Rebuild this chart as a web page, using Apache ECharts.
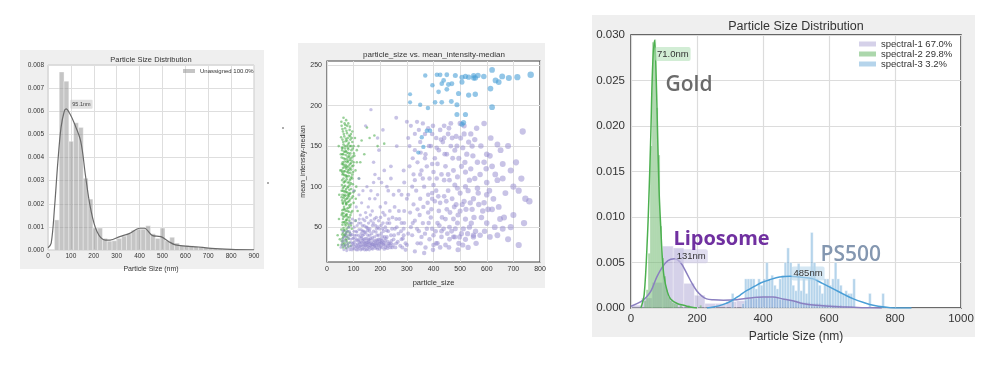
<!DOCTYPE html>
<html><head><meta charset="utf-8">
<script src="https://cdn.jsdelivr.net/npm/echarts@6/dist/echarts.min.js"></script>
<style>html,body{margin:0;padding:0;background:#fff}#c{width:998px;height:379px}</style>
</head><body><div id="c"></div><script>
// ---------- Panel 1 data ----------
const p1BinWidth = 21;
const p1BinStarts = [28,49,70,91,112,133,154,175,196,217,238,259,280,301,322,343,364,385,406,427,448,469,490,511,532,553,574,595,616,637,658,679,700,721,742,763,784,805,826,847,868];
const p1BinHeights = [0.0013,0.0077,0.0073,0.0047,0.0055,0.0053,0.0031,0.0022,0.00095,0.00095,0.0005,0.00038,0.0004,0.0005,0.0006,0.0007,0.00085,0.0009,0.0009,0.00105,0.0007,0.0005,0.00095,0.0004,0.00055,0.0003,0.0002,0.0002,0.00018,0.00015,0.00015,0.0001,0.00008,0.00006,0.00005,0.00004,0.00003,0.00003,0.00002,0.00002,0.00001];
const p1KdeX = [0,14,29,43,57,71,79,95,114,143,164,186,214,250,271,314,357,400,421,457,493,528,557,600,657,714,800,900];
const p1KdeY = [0.0001,0.0003,0.0019,0.0038,0.0053,0.006,0.0061,0.0059,0.0055,0.0047,0.0032,0.0018,0.0008,0.00043,0.00043,0.00058,0.00072,0.00094,0.00094,0.00062,0.00058,0.00036,0.00022,0.00017,0.00013,0.00007,0.00003,0.00001];
const p1Peak = [95.1, 0.0063];

// ---------- Panel 2 data ----------
const p2Green = [[62,185],[72,182],[80,178],[55,175],[68,172],[85,170],[60,168],[75,166],[90,165],[65,162],[78,160],[58,158],[88,158],[70,156],[82,154],[95,155],[62,152],[74,150],[86,150],[100,150],[56,148],[68,147],[80,146],[92,145],[64,143],[76,142],[88,141],[58,140],[70,139],[84,138],[96,137],[62,135],[74,134],[86,133],[66,131],[78,130],[90,129],[56,128],[70,127],[82,126],[94,125],[60,123],[72,122],[84,121],[64,119],[76,118],[88,117],[58,115],[70,114],[82,113],[92,112],[62,110],[74,109],[86,108],[66,106],[78,105],[90,104],[56,102],[68,101],[80,100],[60,98],[72,97],[84,96],[64,94],[76,93],[88,92],[58,90],[70,89],[82,88],[62,86],[74,85],[86,84],[66,82],[78,81],[60,79],[72,78],[84,77],[64,75],[76,73],[58,71],[70,70],[82,69],[62,67],[74,66],[66,63],[78,62],[60,60],[72,59],[84,58],[64,56],[76,55],[58,53],[70,52],[62,49],[74,48],[66,46],[78,45],[60,43],[72,42],[64,40],[76,38],[58,36],[70,35],[62,33],[74,32],[66,30],[56,28],[68,27],[80,26],[60,25],[150,173],[215,153],[178,163],[130,157],[112,145],[105,160],[100,130],[98,118],[104,95],[45,60],[50,120],[52,140],[48,35],[42,28],[95,70],[100,80],[90,52],[110,100],[115,70],[67,150],[79,148],[71,144],[83,136],[67,124],[79,120],[73,112],[63,105],[85,102],[69,95],[81,91],[65,88],[77,86],[71,80],[81,74],[67,72],[73,64],[69,57],[81,50],[67,41],[59,148],[91,150],[93,132],[57,118],[95,110],[55,95],[97,88],[57,83],[90,78],[55,65],[88,65],[54,47],[86,40],[61,128],[75,157],[87,162],[69,176],[77,137],[73,125],[65,114],[87,123],[61,140],
[54,180],[66,178],[76,175],[86,174],[58,171],[73,169],[95,168],[63,165],[83,163],[53,161],[71,159],[93,160],[61,155],[79,152],[97,147],[57,145],[69,143],[81,141],[101,141],[55,136],[67,134],[79,132],[91,135],[59,130],[73,131],[87,128],[99,126],[63,126],[77,124],[91,121],[55,120],[67,119],[81,117],[95,115],[61,116],[75,113],[89,110],[57,108],[69,107],[83,105],[97,103],[63,100],[77,99],[91,97],[59,95],[71,93],[85,91],[99,93],[65,90],[79,89],[93,86],[55,87],[69,84],[83,82],[59,80],[73,79],[87,75],[63,72],[77,70],[91,68],[57,67],[71,65],[85,62],[61,63],[75,59],[89,55],[59,56],[69,54],[81,53],[93,48],[63,46],[73,44],[85,43],[57,41],[69,39],[81,36],[61,38],[73,34],[85,31],[65,28],[77,29],[89,27],[55,33],[71,24],[59,30],[107,120],[103,138],[108,85],[120,110],[125,130],[118,150],[46,90],[44,150],[40,40],[108,58],[112,130],[160,160],[190,150],[140,140]];
const p2Purple = [[52,25],[58,32],[63,22],[68,28],[72,38],[76,24],[80,30],[84,45],[86,22],[90,35],[92,27],[95,41],[98,24],[100,31],[102,50],[105,26],[108,36],[110,22],[112,44],[115,29],[117,33],[119,55],[121,24],[124,38],[126,27],[128,47],[130,31],[132,23],[134,40],[136,28],[138,35],[140,52],[142,25],[144,30],[146,43],[148,22],[150,36],[152,28],[154,48],[156,33],[158,25],[160,40],[162,30],[165,58],[167,24],[170,37],[172,29],[175,45],[177,26],[180,33],[182,52],[185,28],[188,40],[190,23],[193,35],[196,48],[198,30],[201,26],[204,42],[207,33],[210,55],[213,28],[216,38],[220,25],[224,46],[228,32],[232,60],[236,28],[240,40],[245,25],[250,35],[255,48],[260,30],[268,42],[275,27],[285,36],[290,55],[96,30],[106,33],[114,25],[122,31],[131,36],[139,28],[147,33],[157,30],[166,27],[176,31],[186,34],[195,27],[205,30],[118,40],[128,42],[137,45],[160,45],[150,50],[135,60],[125,65],[145,68],[170,70],[185,62],[200,75],[210,68],[220,80],[160,85],[190,90],[230,95],[150,100],[175,105],[205,105],[240,110],[120,90],[110,75],[95,60],[85,55],[130,80],[215,120],[240,125],[175,130],[195,145],[260,185],[210,170],[165,195],[145,175],[190,160],[280,90],[300,85],[320,100],[270,70],
[55,28],[60,35],[65,26],[70,33],[74,21],[78,27],[82,36],[88,25],[91,31],[94,22],[97,36],[99,28],[103,23],[104,40],[107,29],[109,45],[111,26],[113,34],[116,22],[118,28],[120,47],[123,26],[125,33],[127,22],[129,38],[131,27],[133,45],[135,24],[137,32],[139,41],[141,22],[143,36],[145,27],[147,50],[149,31],[151,23],[153,40],[155,26],[157,35],[159,22],[161,48],[163,27],[164,36],[166,31],[168,42],[171,23],[173,34],[174,55],[176,28],[178,38],[181,24],[183,30],[184,44],[187,25],[189,33],[191,50],[192,28],[194,40],[197,23],[199,35],[202,31],[203,52],[206,25],[208,38],[211,29],[212,45],[215,23],[218,33],[219,50],[222,28],[225,38],[227,24],[230,45],[233,30],[235,55],[238,25],[242,33],[244,48],[248,28],[252,40],[257,25],[262,50],[266,32],[272,60],[278,45],[283,25],[288,40],[295,30],[82,50],[88,42],[93,55],[101,45],[106,58],[113,52],[121,60],[127,55],[133,52],[142,58],[149,62],[156,55],[163,65],[171,52],[178,60],[186,48],[194,58],[201,62],[209,48],[217,65],[226,55],[236,70],[246,62],[254,75],[142,44],[152,46],[119,35],[126,30],[134,34],[141,31],[148,28],[154,31],[161,34],[169,29],[179,27],[188,30],[196,32],[206,34],[214,31],[221,36],[229,27],[239,30],[100,37],[110,40],[90,40],[80,40],[75,45],[70,42],[65,38],[60,45],[165,95],[180,85],[155,75],[195,110],[225,100],[250,90],[180,115],[120,110],[135,95],[100,95],
[300,180],[315,175],[330,165],[345,170],[360,178],[380,172],[395,165],[410,160],[425,170],[440,175],[455,165],[470,160],[485,162],[500,178],[515,175],[540,165],[555,158],[590,178],[615,160],[640,152],[680,150],[735,168],[310,150],[330,145],[350,155],[370,140],[390,150],[405,135],[420,145],[435,155],[450,140],[465,150],[480,145],[495,135],[510,148],[525,140],[545,150],[565,130],[600,140],[620,125],[660,128],[310,125],[325,115],[340,130],[355,120],[375,125],[385,110],[400,118],[415,128],[430,115],[445,125],[460,108],[475,120],[490,112],[505,125],[520,118],[540,122],[555,110],[575,115],[600,105],[640,108],[670,92],[700,100],[730,110],[270,95],[290,105],[305,90],[335,95],[350,85],[365,100],[380,90],[395,85],[410,95],[425,80],[440,88],[455,95],[470,85],[485,78],[500,92],[515,82],[530,95],[550,85],[570,78],[590,80],[620,72],[650,60],[700,65],[760,82],[260,60],[280,55],[315,50],[330,58],[345,45],[360,55],[375,48],[390,62],[400,40],[415,55],[430,45],[445,60],[460,50],[475,38],[490,55],[505,42],[520,60],[535,50],[550,40],[560,30],[580,62],[600,55],[630,50],[660,48],[720,28],[280,35],[300,28],[320,40],[340,30],[355,38],[370,25],[385,35],[400,28],[415,30],[430,38],[445,28],[460,35],[480,38],[495,30],[510,28],[520,35],[550,38],[365,18],[410,30],[475,60],[420,70],[450,72],[380,68],[340,72],[500,70],[545,72],[600,90],[520,100],[480,102],[440,108],[400,102],[360,110],[330,108],
[262,150],[288,120],[305,160],[322,135],[338,180],[352,142],[368,165],[383,150],[398,175],[412,148],[428,158],[442,140],[458,172],[472,135],[488,150],[502,160],[518,130],[532,155],[548,138],[562,172],[578,150],[598,122],[612,138],[632,115],[652,145],[690,120],[720,95],[745,85],[290,70],[312,68],[325,78],[348,65],[362,75],[378,80],[392,72],[405,82],[418,88],[432,62],[448,82],[462,68],[478,75],[492,65],[508,78],[522,72],[538,80],[552,62],[568,92],[585,70],[605,72],[625,85],[645,75],[665,62],[690,50],[740,55],[288,48],[305,42],[322,55],[338,48],[352,30],[368,42],[382,55],[395,48],[408,45],[422,52],[438,48],[452,42],[468,45],[482,48],[498,38],[512,48],[528,42],[542,55],[558,45],[575,40],[592,45],[612,38],[640,40],[680,35],[295,22],[330,20],[398,22],[425,25],[458,25],[492,22],[530,25],[395,92],[412,110],[455,115],[490,98],[535,108],[565,98],[590,130],[610,95],[660,110],[710,130],[440,160],[465,178],[395,128],[368,135],[350,115],[515,165]];
const p2Blue = [[369,237],[413,238],[425,238],[450,238],[482,237],[507,235],[532,235],[551,237],[557,234],[589,236],[620,244],[633,231],[658,236],[683,234],[715,235],[765,238],[396,225],[431,227],[450,220],[494,215],[532,213],[557,214],[614,221],[645,229],[312,214],[312,204],[350,201],[379,197],[406,204],[431,204],[467,205],[488,201],[620,198],[488,189],[520,189],[507,177],[513,179],[375,169],[387,169],[356,161],[362,149],[343,142],[438,231],[469,227],[507,229],[419,217],[456,226],[520,236],[551,234],[567,237]];
const p2YTicks = [50,100,150,200,250];

// ---------- Panel 3 data ----------
const p3Names = ['spectral-1 67.0%','spectral-2 29.8%','spectral-3 3.2%'];
const p3PurpleWidth = 32;
const p3PurpleStarts = [0,32,64,96,128,160,192,224,256,288,320,352,384,416,448,480,512,544,576,608,640,672];
const p3PurpleHeights = [0.0003,0.0011,0.0028,0.0068,0.0066,0.0027,0.0014,0.0005,0.0005,0.0007,0.0008,0.001,0.0012,0.0011,0.0009,0.0008,0.0006,0.0005,0.0004,0.0003,0.0002,0.0001];
const p3GreenWidth = 6;
const p3GreenStarts = [40,46,52,58,64,70,76,82,88,94,100,106,112,118,124,130,136,148,172,208];
const p3GreenHeights = [0.0008,0.002,0.006,0.0178,0.0292,0.0295,0.022,0.0168,0.009,0.0055,0.0035,0.002,0.0012,0.0008,0.0006,0.0005,0.0004,0.0003,0.0003,0.0003];
const p3BlueWidth = 8;
const p3BlueStarts = [304,336,344,352,360,368,376,384,392,400,408,416,424,432,440,448,456,464,472,480,488,496,504,512,520,528,536,544,552,560,568,576,584,592,600,608,616,624,632,640,648,656,664,672,720,760];
const p3BlueHeights = [0.0016,0.0005,0.0032,0.0032,0.0032,0.0032,0.0021,0.0032,0.0025,0.0032,0.005,0.0032,0.0036,0.0025,0.0021,0.0032,0.0036,0.005,0.0066,0.005,0.0025,0.0019,0.0049,0.0019,0.0032,0.0016,0.0032,0.0083,0.005,0.0032,0.0025,0.0016,0.0032,0.0032,0.0025,0.0032,0.005,0.0032,0.0025,0.0016,0.0019,0.0016,0.0016,0.0032,0.0016,0.0016];
const p3GreenKdeX = [30,40,50,55,60,65,71,75,80,85,90,95,100,110,120,140,160,180,200];
const p3GreenKdeY = [0,0.0015,0.008,0.013,0.019,0.026,0.0294,0.027,0.02,0.013,0.009,0.0055,0.0035,0.0018,0.001,0.0005,0.0003,0.0001,0];
const p3PurpleKdeX = [0,30,47,61,78,95,112,131,150,169,185,199,215,229,250,280,320,360,400,430,460,490,520,560,600,650,700,760];
const p3PurpleKdeY = [0.0002,0.0007,0.0012,0.0019,0.0034,0.0045,0.0052,0.0054,0.005,0.0038,0.0027,0.0019,0.0013,0.001,0.0009,0.00085,0.0009,0.0011,0.0012,0.0012,0.001,0.0008,0.0005,0.0003,0.0002,0.0001,0.00004,0];
const p3BlueKdeX = [230,250,280,305,330,350,375,396,420,450,482,510,552,580,613,645,674,705,734,785,850];
const p3BlueKdeY = [0,0.0001,0.0004,0.0008,0.0014,0.0019,0.0024,0.0028,0.0031,0.0034,0.0035,0.0034,0.0032,0.0027,0.0021,0.0015,0.001,0.0006,0.0003,0.00004,0];
const p3Peaks = [{t:'71.0nm', p:[71.0,0.0279]}, {t:'131nm', p:[131,0.0057]}, {t:'485nm', p:[485,0.0038]}];
const p3Notes = [{t:'Gold', p:[103,0.0245]}, {t:'Liposome', p:[127,0.0075]}, {t:'PS500', p:[573,0.0058]}];

// ---------- helpers ----------
const FONT = 'Liberation Sans, Arial, sans-serif';
const zip = (a,b) => a.map((v,i)=>[v,b[i]]);
function hist(name, starts, heights, width, gi, fill, stroke, lw) {
  return {
    type:'custom', name, xAxisIndex:gi, yAxisIndex:gi, clip:true,
    data: starts.map((s,i)=>[s, s+width, heights[i]]),
    encode:{x:[0,1], y:2},
    itemStyle:{color:fill},
    renderItem(params, api){
      const a = api.coord([api.value(0), api.value(2)]);
      const b = api.coord([api.value(1), 0]);
      return {type:'rect', shape:{x:a[0], y:a[1], width:b[0]-a[0], height:b[1]-a[1]},
        style:{fill, stroke, lineWidth:lw}};
    }
  };
}
function kde(name, xs, ys, gi, color, w) {
  return {type:'line', name, xAxisIndex:gi, yAxisIndex:gi, data:zip(xs,ys), smooth:0.35,
    showSymbol:false, symbol:'none', lineStyle:{color, width:w}, z:5, silent:true};
}
function note(text, pt, gi, label) {
  return {type:'scatter', name:'note-'+text, xAxisIndex:gi, yAxisIndex:gi, data:[pt], symbolSize:1,
    itemStyle:{color:'rgba(0,0,0,0)', opacity:1}, silent:true, z:10,
    label:Object.assign({show:true, position:'right', distance:0, formatter:text}, label)};
}
const txt = '#333';

const option = {
  animation:false,
  backgroundColor:'#fff',
  textStyle:{fontFamily:FONT},
  graphic:[
    {type:'rect', shape:{x:20,y:50,width:244,height:219}, style:{fill:'#efefef'}, z:-100, silent:true},
    {type:'rect', shape:{x:298,y:43,width:247,height:245}, style:{fill:'#efefef'}, z:-100, silent:true},
    {type:'rect', shape:{x:592,y:15,width:383,height:322}, style:{fill:'#efefef'}, z:-100, silent:true},
    {type:'text', x:151, y:60, style:{text:'Particle Size Distribution', font:'7.5px '+FONT, fill:txt, align:'center', verticalAlign:'middle'}},
    {type:'text', x:434, y:55, style:{text:'particle_size vs. mean_intensity-median', font:'8px '+FONT, fill:txt, align:'center', verticalAlign:'middle'}},
    {type:'text', x:796, y:27, style:{text:'Particle Size Distribution', font:'12.5px '+FONT, fill:txt, align:'center', verticalAlign:'middle'}},
    {type:'circle', shape:{cx:283,cy:128,r:0.8}, style:{fill:'#444'}},
    {type:'circle', shape:{cx:268,cy:183,r:0.8}, style:{fill:'#444'}}
  ],
  legend:[
    {left:183, top:68, padding:0, itemWidth:12, itemHeight:4, icon:'rect', data:['Unassigned 100.0%'],
     textStyle:{fontSize:6, color:txt, fontFamily:FONT}, selectedMode:false},
    {left:859, top:39, padding:0, orient:'vertical', itemWidth:17, itemHeight:5, itemGap:0, icon:'rect', data:p3Names,
     textStyle:{fontSize:9.5, lineHeight:10, color:txt, fontFamily:FONT}, selectedMode:false}
  ],
  grid:[
    {left:48, top:65, width:206, height:185, show:true, backgroundColor:'#fff', borderColor:'#c8c8c8', borderWidth:1},
    {left:327, top:61, width:213, height:201, show:true, backgroundColor:'#fff', borderColor:'#444', borderWidth:1.2},
    {left:631, top:35, width:330, height:273, show:true, backgroundColor:'#fff', borderColor:'#3a3a3a', borderWidth:1.5}
  ],
  xAxis:[
    {gridIndex:0, type:'value', min:0, max:900, interval:100, axisLine:{show:false}, axisTick:{show:false},
     splitLine:{lineStyle:{color:'#dedede', width:1}},
     axisLabel:{fontSize:6.5, color:txt, margin:3, fontFamily:FONT, formatter:v=>String(v)},
     name:'Particle Size (nm)', nameLocation:'middle', nameGap:16, nameTextStyle:{fontSize:7, color:txt, fontFamily:FONT}},
    {gridIndex:1, type:'value', min:0, max:800, interval:100, axisLine:{show:false}, axisTick:{show:false},
     splitLine:{lineStyle:{color:'#dedede', width:1}},
     axisLabel:{fontSize:7, color:txt, margin:4, fontFamily:FONT, formatter:v=>String(v)},
     name:'particle_size', nameLocation:'middle', nameGap:17, nameTextStyle:{fontSize:7.5, color:txt, fontFamily:FONT}},
    {gridIndex:2, type:'value', min:0, max:1000, interval:200, axisLine:{show:false}, axisTick:{show:false},
     splitLine:{lineStyle:{color:'#dcdcdc', width:1.2}},
     axisLabel:{fontSize:11.5, color:txt, margin:5, fontFamily:FONT, formatter:v=>String(v)},
     name:'Particle Size (nm)', nameLocation:'middle', nameGap:23, nameTextStyle:{fontSize:12, color:txt, fontFamily:FONT}}
  ],
  yAxis:[
    {gridIndex:0, type:'value', min:0, max:0.008, interval:0.001, axisLine:{show:false}, axisTick:{show:false},
     splitLine:{lineStyle:{color:'#dedede', width:1}},
     axisLabel:{fontSize:6.5, color:txt, margin:4, fontFamily:FONT, formatter:v=>v.toFixed(3)}},
    {gridIndex:1, type:'value', min:7, max:255, axisLine:{show:false},
     axisTick:{show:false, customValues:p2YTicks},
     splitLine:{lineStyle:{color:'#dedede', width:1}},
     axisLabel:{fontSize:7, color:txt, margin:5, fontFamily:FONT, customValues:p2YTicks},
     name:'mean_intensity-median', nameLocation:'middle', nameGap:19, nameTextStyle:{fontSize:7, color:txt, fontFamily:FONT}},
    {gridIndex:2, type:'value', min:0, max:0.03, interval:0.005, axisLine:{show:false}, axisTick:{show:false},
     splitLine:{lineStyle:{color:'#dcdcdc', width:1.2}},
     axisLabel:{fontSize:11.5, color:txt, margin:6, fontFamily:FONT, formatter:v=>v.toFixed(3)}}
  ],
  series:[
    hist('Unassigned 100.0%', p1BinStarts, p1BinHeights, p1BinWidth, 0, 'rgba(150,150,150,0.55)', 'rgba(255,255,255,0.6)', 0.6),
    kde('p1kde', p1KdeX, p1KdeY, 0, '#6a6a6a', 1.2),
    note('95.1nm', p1Peak, 0, {fontSize:5.5, color:'#444', backgroundColor:'rgba(200,200,200,0.55)', padding:[1.5,2], borderRadius:1}),

    {type:'scatter', name:'green', xAxisIndex:1, yAxisIndex:1, data:p2Green, symbolSize:2.6,
     itemStyle:{color:'rgba(70,170,70,0.55)', opacity:1}, silent:true},
    {type:'scatter', name:'purple', xAxisIndex:1, yAxisIndex:1, data:p2Purple, symbolSize:v=>2.6+v[0]/200,
     itemStyle:{color:'rgba(145,135,205,0.5)', opacity:1}, silent:true},
    {type:'scatter', name:'blue', xAxisIndex:1, yAxisIndex:1, data:p2Blue, symbolSize:v=>2.6+v[0]/200,
     itemStyle:{color:'rgba(75,160,215,0.6)', opacity:1}, silent:true},

    hist(p3Names[0], p3PurpleStarts, p3PurpleHeights, p3PurpleWidth, 2, 'rgba(150,140,200,0.4)', 'rgba(255,255,255,0.5)', 0.6),
    hist(p3Names[1], p3GreenStarts, p3GreenHeights, p3GreenWidth, 2, 'rgba(90,175,90,0.5)', 'rgba(255,255,255,0.25)', 0.3),
    hist(p3Names[2], p3BlueStarts, p3BlueHeights, p3BlueWidth, 2, 'rgba(90,160,210,0.45)', 'rgba(255,255,255,0.6)', 0.6),
    kde('k1', p3PurpleKdeX, p3PurpleKdeY, 2, '#8a7fc0', 1.5),
    kde('k2', p3GreenKdeX, p3GreenKdeY, 2, '#4cb04f', 1.5),
    kde('k3', p3BlueKdeX, p3BlueKdeY, 2, '#4a9ed6', 1.5),
    note(p3Peaks[0].t, p3Peaks[0].p, 2, {fontSize:9.5, color:'#333', backgroundColor:'rgba(180,225,185,0.6)', padding:[2,2], borderRadius:2}),
    note(p3Peaks[1].t, p3Peaks[1].p, 2, {fontSize:9.5, color:'#333', backgroundColor:'rgba(205,200,230,0.6)', padding:[2,2], borderRadius:2}),
    note(p3Peaks[2].t, p3Peaks[2].p, 2, {fontSize:9.5, color:'#333', backgroundColor:'rgba(185,215,235,0.6)', padding:[2,2], borderRadius:2}),
    note(p3Notes[0].t, p3Notes[0].p, 2, {fontSize:21, fontWeight:600, color:'#6b6b6b', fontFamily:'Open Sans'}),
    note(p3Notes[1].t, p3Notes[1].p, 2, {fontSize:20, fontWeight:700, color:'#7030a0', fontFamily:'Open Sans'}),
    note(p3Notes[2].t, p3Notes[2].p, 2, {fontSize:21, fontWeight:600, color:'#8497b0', fontFamily:'Open Sans'})
  ]
};
const chart = echarts.init(document.getElementById('c'));
chart.setOption(option);
</script></body></html>
